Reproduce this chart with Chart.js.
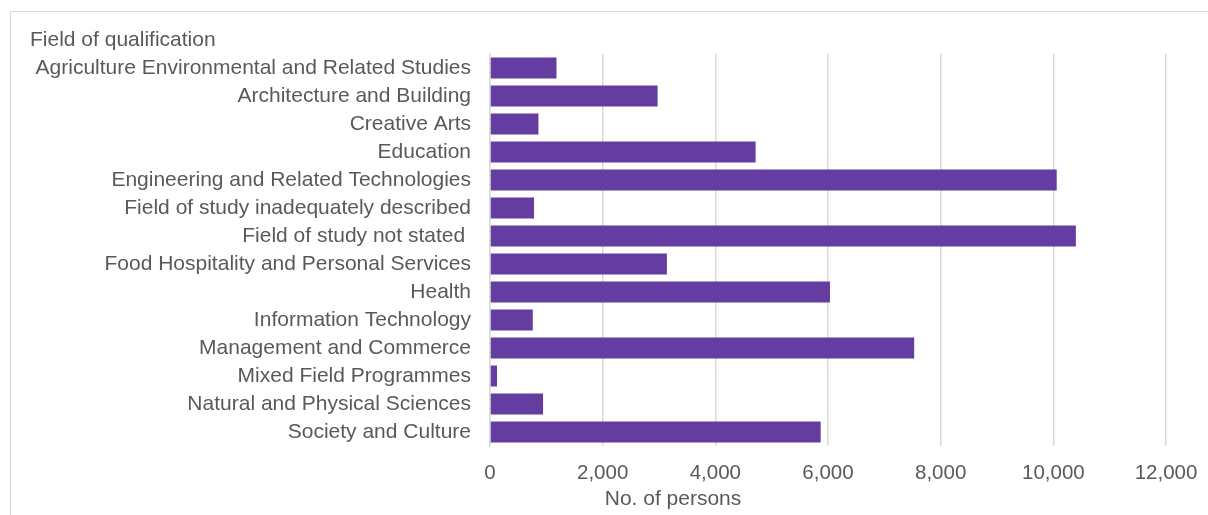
<!DOCTYPE html>
<html>
<head>
<meta charset="utf-8">
<script src="https://cdn.jsdelivr.net/npm/chart.js@4"></script>
<style>
  html, body { margin: 0; padding: 0; background: #ffffff; overflow: hidden; }
  #frame { position: absolute; left: 10px; top: 11px; width: 1300px; height: 600px; border: 1px solid #d9d9d9; box-sizing: border-box; }
  #wrap { position: absolute; left: 0; top: 0; width: 1208px; height: 515px; }
</style>
</head>
<body>
<div id="frame"></div>
<div id="wrap"><canvas id="c" width="1208" height="515"></canvas></div>
<script>
// Persons by field of qualification
const categories = [
  'Agriculture Environmental and Related Studies',
  'Architecture and Building',
  'Creative Arts',
  'Education',
  'Engineering and Related Technologies',
  'Field of study inadequately described',
  'Field of study not stated ',
  'Food Hospitality and Personal Services',
  'Health',
  'Information Technology',
  'Management and Commerce',
  'Mixed Field Programmes',
  'Natural and Physical Sciences',
  'Society and Culture'
];
const persons = [1180, 2975, 860, 4715, 10060, 782, 10400, 3140, 6035, 760, 7530, 125, 942, 5870];
const xTicks = [0, 2000, 4000, 6000, 8000, 10000, 12000];

const yAxisTitle = 'Field of qualification';
const xAxisTitle = 'No. of persons';

const FONT = "'Liberation Sans', Arial, sans-serif";
const TEXT = '#595959';

// Both axis titles are placed by hand: the category title sits above the
// labels, and the value title sits left of the axis centre.
const axisTitlesPlugin = {
  id: 'axisTitles',
  afterDraw(chart) {
    const ctx = chart.ctx;
    ctx.save();
    ctx.font = '21px ' + FONT;
    ctx.fillStyle = TEXT;
    ctx.textBaseline = 'middle';
    ctx.textAlign = 'left';
    ctx.fillText(yAxisTitle, 30, 40);
    ctx.textAlign = 'center';
    ctx.fillText(xAxisTitle, 673, 499);
    ctx.restore();
  }
};

new Chart(document.getElementById('c'), {
  type: 'bar',
  data: {
    labels: categories,
    datasets: [{
      data: persons,
      backgroundColor: '#653ca0',
      borderWidth: 0,
      barPercentage: 0.75,
      categoryPercentage: 1.0
    }]
  },
  options: {
    indexAxis: 'y',
    responsive: false,
    animation: false,
    layout: { padding: { left: 10, right: 42, top: 54, bottom: 0 } },
    plugins: {
      legend: { display: false },
      tooltip: { enabled: false },
      title: { display: false }
    },
    scales: {
      x: {
        type: 'linear',
        min: 0,
        max: 12000,
        afterBuildTicks(scale) { scale.ticks = xTicks.map(v => ({ value: v })); },
        afterFit(scale) {
          scale.height = 69;
          scale.paddingRight = 0;
          scale.paddingLeft = 0;
        },
        grid: { color: '#d9d9d9', lineWidth: 1.5, drawTicks: false },
        border: { display: false },
        ticks: {
          color: TEXT,
          padding: 15,
          maxRotation: 0,
          font: { family: FONT, size: 20.5 },
          callback: v => v.toLocaleString('en-US')
        }
      },
      y: {
        afterFit(scale) { scale.width = 480; },
        grid: { display: false, drawTicks: false },
        border: { display: true, color: '#d9d9d9', width: 1.5 },
        ticks: {
          color: TEXT,
          padding: 19,
          autoSkip: false,
          font: { family: FONT, size: 21 }
        }
      }
    }
  },
  plugins: [axisTitlesPlugin]
});
</script>
</body>
</html>
